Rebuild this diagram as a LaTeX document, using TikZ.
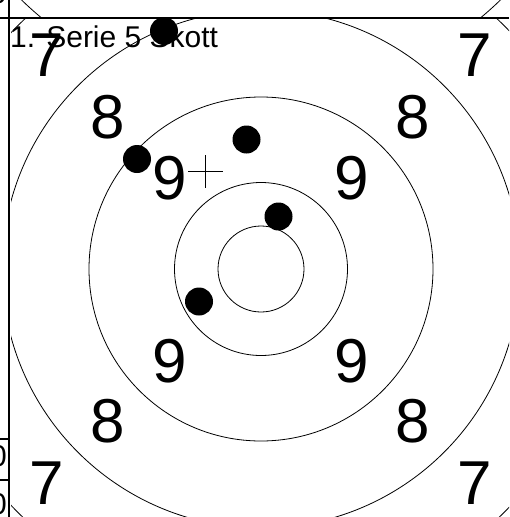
\documentclass[tikz,border=0pt]{standalone}
\usepackage{fontspec}
\setmainfont{Liberation Sans}
\begin{document}
\begin{tikzpicture}[x=1pt, y=-1pt,
  trgring/.style = {line width=0.8pt},
  trgframe/.style = {line width=1.2pt},
  trgnum/.style = {font=\fontsize{62}{62}\selectfont, inner sep=0pt},
  trglbl/.style = {font=\fontsize{30}{30}\selectfont, inner sep=0pt},
  trgshot/.style = {circle, fill=black, inner sep=0pt, minimum size=28pt}
]
  \useasboundingbox (0,0) rectangle (509,517);
  % Ende der vorigen Scheibe
  \begin{scope}
    \clip (11,0) rectangle (509,18);
    \draw[trgring] (261,-247) circle (344pt);
  \end{scope}
  % Ringe
  \begin{scope}
    \clip (11,18) rectangle (509,517);
    \foreach \r in {43,86.5,172,259,344} {
      \draw[trgring] (261,269) circle (\r pt);
    }
  \end{scope}
  % Rahmen und linke Spalte
  \draw[trgframe] (0,18) -- (509,18);
  \draw[trgframe] (9,0) -- (9,517);
  \draw[trgframe] (0,439) -- (9,439);
  \draw[trgframe] (0,480) -- (9,480);
  \node[trglbl, anchor=base east] (col0) at (7,3.5) {0};
  \node[trglbl, anchor=east] (col1) at (7,456) {0};
  \node[trglbl, anchor=east] (col2) at (7,504) {0};
  % Ringzahlen
  \node[trgnum] (r7nw) at (47,55) {7};
  \node[trgnum] (r7ne) at (475,55) {7};
  \node[trgnum] (r7sw) at (47,483) {7};
  \node[trgnum] (r7se) at (475,483) {7};
  \node[trgnum] (r8nw) at (108,117) {8};
  \node[trgnum] (r8ne) at (413,117) {8};
  \node[trgnum] (r8sw) at (108,421) {8};
  \node[trgnum] (r8se) at (413,421) {8};
  \node[trgnum] (r9nw) at (170,178) {9};
  \node[trgnum] (r9ne) at (352,178) {9};
  \node[trgnum] (r9sw) at (170,361) {9};
  \node[trgnum] (r9se) at (352,361) {9};
  % Titel
  \node[trglbl, anchor=base west] (title) at (10,47) {1. Serie 5 Skott};
  % Mittelpunkt der Treffer
  \coordinate (aim) at (205.5,171.5);
  \draw[trgring] (aim) ++(-17.5,0) -- ++(35,0);
  \draw[trgring] (aim) ++(0,-16.5) -- ++(0,33);
  % Treffer
  \node[trgshot] (shot1) at (164,31) {};
  \node[trgshot] (shot2) at (246.5,139.5) {};
  \node[trgshot] (shot3) at (137,159) {};
  \node[trgshot] (shot4) at (278.5,216.5) {};
  \node[trgshot] (shot5) at (199,301.5) {};
\end{tikzpicture}
\end{document}
